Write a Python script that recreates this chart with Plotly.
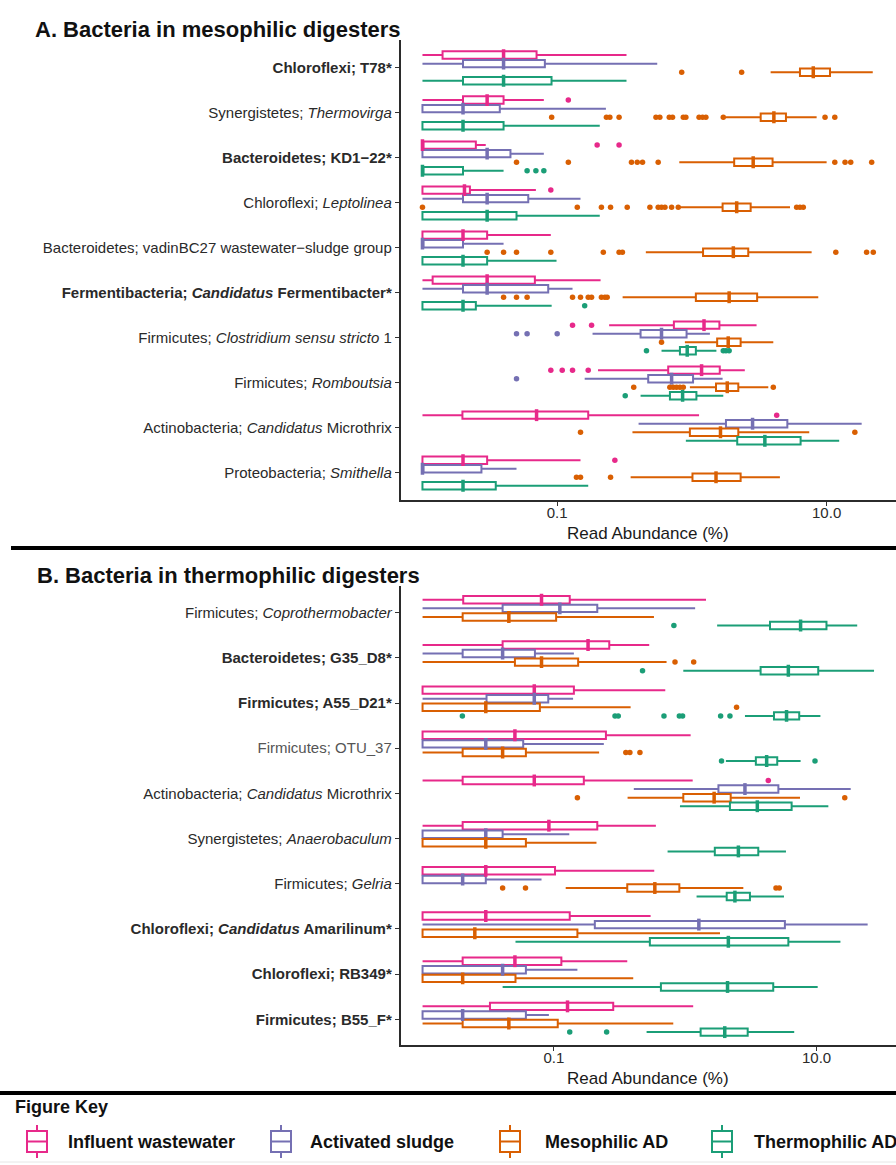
import plotly.graph_objects as go

W, H = 896, 1165
OFF = 0  # body margin removed via post_script
FONT = "Liberation Sans, Arial, Helvetica, sans-serif"

SERIES = ["Influent wastewater", "Activated sludge", "Mesophilic AD", "Thermophilic AD"]
COLORS = ["#E7298A", "#7570B3", "#D95F02", "#1B9E77"]

# ---------------- Panel A: mesophilic digesters ----------------
A_LABELS = [
    "<b>Chloroflexi; T78*</b>",
    "Synergistetes; <i>Thermovirga</i>",
    "<b>Bacteroidetes; KD1\u221222*</b>",
    "Chloroflexi; <i>Leptolinea</i>",
    "Bacteroidetes; vadinBC27 wastewater\u2212sludge group",
    "<b>Fermentibacteria; <i>Candidatus</i> Fermentibacter*</b>",
    "Firmicutes; <i>Clostridium sensu stricto</i> 1",
    "Firmicutes; <i>Romboutsia</i>",
    "Actinobacteria; <i>Candidatus</i> Microthrix",
    "Proteobacteria; <i>Smithella</i>",
]
# (lower whisker, q1, median, q3, upper whisker) in % read abundance
A_INFLUENT = [
    (0.01, 0.0141, 0.040, 0.0703, 0.327),
    (0.01, 0.020, 0.0302, 0.040, 0.0796),
    (0.01, 0.01, 0.01, 0.0249, 0.0295),
    (0.01, 0.01, 0.0205, 0.0225, 0.0695),
    (0.01, 0.01, 0.020, 0.0302, 0.0897),
    (0.01, 0.0119, 0.0302, 0.0683, 0.21),
    (0.243, 0.735, 1.23, 1.60, 3.02),
    (0.201, 0.667, 1.18, 1.61, 2.47),
    (0.01, 0.0198, 0.0703, 0.17, 1.13),
    (0.01, 0.01, 0.020, 0.0302, 0.149),
]
A_INFLUENT_OUT = [[], [0.121], [0.198, 0.288], [0.0897], [], [],
                  [0.13, 0.18], [0.0897, 0.109, 0.13, 0.17], [4.26], [0.268]]
A_SLUDGE = [
    (0.01, 0.020, 0.040, 0.081, 0.553),
    (0.01, 0.01, 0.020, 0.0375, 0.230),
    (0.01, 0.01, 0.0302, 0.045, 0.0796),
    (0.01, 0.020, 0.0302, 0.061, 0.149),
    (0.01, 0.01, 0.01, 0.020, 0.040),
    (0.01, 0.020, 0.0302, 0.0858, 0.13),
    (0.183, 0.416, 0.595, 0.913, 1.36),
    (0.16, 0.474, 0.707, 1.02, 1.69),
    (0.402, 1.79, 2.82, 5.11, 18.2),
    (0.01, 0.01, 0.01, 0.0274, 0.0499),
]
A_SLUDGE_OUT = [[], [], [], [], [], [], [0.0499, 0.0598, 0.1], [0.0499], [], []]
A_MESO = [
    (3.84, 6.34, 7.96, 10.6, 22.0),
    (1.79, 3.24, 4.06, 4.99, 8.43),
    (0.806, 2.06, 2.85, 3.97, 10.0),
    (0.815, 1.69, 2.15, 2.73, 5.35),
    (0.455, 1.21, 2.03, 2.62, 7.74),
    (0.306, 1.07, 1.89, 3.05, 8.67),
    (0.887, 1.54, 1.86, 2.30, 4.02),
    (0.966, 1.51, 1.83, 2.21, 3.69),
    (0.362, 0.966, 1.63, 2.21, 7.43),
    (0.351, 1.01, 1.51, 2.30, 4.5),
]
A_MESO_OUT = [
    [0.84, 2.34],
    [0.091, 0.232, 0.246, 0.288, 0.541, 0.578, 0.679, 0.718, 0.863, 0.902,
     1.13, 1.20, 1.27, 1.71, 9.73, 11.5],
    [0.0499, 0.121, 0.356, 0.393, 0.430, 0.562, 11.5, 13.7, 15.1, 21.6],
    [0.01, 0.141, 0.213, 0.249, 0.331, 0.488, 0.562, 0.595, 0.631, 0.707,
     0.792, 5.99, 6.34, 6.71],
    [0.0302, 0.040, 0.0499, 0.0897, 0.22, 0.288, 0.305, 11.7, 19.8, 22.2],
    [0.040, 0.0499, 0.0598, 0.13, 0.149, 0.17, 0.18, 0.213, 0.226, 0.235],
    [0.595],
    [0.37, 0.686, 0.727, 0.769, 0.815, 0.863, 4.02],
    [0.149, 16.2],
    [0.139, 0.149, 0.249],
]
A_THERMO = [
    (0.01, 0.020, 0.040, 0.0908, 0.327),
    (0.01, 0.01, 0.020, 0.040, 0.207),
    (0.01, 0.01, 0.01, 0.020, 0.040),
    (0.01, 0.01, 0.0302, 0.0499, 0.207),
    (0.01, 0.01, 0.020, 0.0302, 0.0989),
    (0.01, 0.01, 0.020, 0.0249, 0.091),
    (0.595, 0.815, 0.923, 1.07, 1.52),
    (0.416, 0.687, 0.853, 1.08, 1.71),
    (0.902, 2.17, 3.48, 6.41, 12.4),
    (0.01, 0.01, 0.020, 0.035, 0.17),
]
A_THERMO_OUT = [[], [], [0.0598, 0.0695, 0.0796], [], [], [0.16],
                [0.46, 1.71, 1.79, 1.89], [0.32], [], []]

# ---------------- Panel B: thermophilic digesters ----------------
B_LABELS = [
    "Firmicutes; <i>Coprothermobacter</i>",
    "<b>Bacteroidetes; G35_D8*</b>",
    "<b>Firmicutes; A55_D21*</b>",
    "<span style='color:#555555'>Firmicutes; OTU_37</span>",
    "Actinobacteria; <i>Candidatus</i> Microthrix",
    "Synergistetes; <i>Anaerobaculum</i>",
    "Firmicutes; <i>Gelria</i>",
    "<b>Chloroflexi; <i>Candidatus</i> Amarilinum*</b>",
    "<b>Chloroflexi; RB349*</b>",
    "<b>Firmicutes; B55_F*</b>",
]
B_INFLUENT = [
    (0.01, 0.0204, 0.0805, 0.132, 1.44),
    (0.01, 0.0407, 0.182, 0.264, 0.532),
    (0.01, 0.01, 0.0709, 0.142, 0.705),
    (0.01, 0.01, 0.0505, 0.249, 1.1),
    (0.01, 0.0202, 0.0709, 0.169, 1.14),
    (0.01, 0.0202, 0.0916, 0.214, 0.598),
    (0.01, 0.01, 0.0303, 0.102, 0.581),
    (0.01, 0.01, 0.0303, 0.132, 0.545),
    (0.01, 0.0202, 0.0505, 0.114, 0.362),
    (0.01, 0.0326, 0.127, 0.283, 1.15),
]
B_INFLUENT_OUT = [[], [], [], [], [4.29], [], [], [], [], []]
B_SLUDGE = [
    (0.01, 0.0407, 0.111, 0.214, 1.19),
    (0.01, 0.0202, 0.0407, 0.0717, 0.142),
    (0.01, 0.0307, 0.0709, 0.0906, 0.14),
    (0.01, 0.01, 0.0303, 0.0584, 0.24),
    (0.406, 1.79, 2.85, 5.12, 18.2),
    (0.01, 0.01, 0.0303, 0.0407, 0.131),
    (0.01, 0.01, 0.0202, 0.0303, 0.0805),
    (0.01, 0.205, 1.27, 5.74, 24.5),
    (0.01, 0.01, 0.0407, 0.0612, 0.151),
    (0.01, 0.01, 0.0202, 0.0612, 0.0916),
]
B_SLUDGE_OUT = [[], [], [], [], [], [], [], [], [], []]
B_MESO = [
    (0.01, 0.0202, 0.0454, 0.104, 0.578),
    (0.01, 0.0505, 0.0805, 0.153, 0.721),
    (0.01, 0.01, 0.0303, 0.0782, 0.384),
    (0.01, 0.0202, 0.0407, 0.0612, 0.221),
    (0.364, 0.967, 1.66, 2.22, 7.48),
    (0.01, 0.01, 0.0303, 0.0612, 0.211),
    (0.123, 0.362, 0.587, 0.902, 2.77),
    (0.01, 0.01, 0.025, 0.151, 1.84),
    (0.01, 0.01, 0.0202, 0.051, 0.402),
    (0.01, 0.0202, 0.0454, 0.107, 0.811),
]
B_MESO_OUT = [[], [0.836, 1.16], [2.46], [0.353, 0.379, 0.452], [0.151, 16.4],
              [], [0.0407, 0.0608, 4.91, 5.2], [], [], []]
B_THERMO = [
    (1.75, 4.42, 7.56, 11.9, 20.4),
    (0.967, 3.75, 6.1, 10.3, 27.4),
    (2.85, 4.74, 5.91, 7.38, 10.7),
    (2.04, 3.45, 4.17, 5.02, 7.56),
    (0.912, 2.19, 3.54, 6.46, 12.3),
    (0.734, 1.68, 2.54, 3.6, 5.85),
    (1.22, 2.07, 2.39, 3.11, 5.65),
    (0.051, 0.538, 2.13, 6.1, 15.2),
    (0.0407, 0.653, 2.1, 4.68, 10.2),
    (0.508, 1.31, 2.0, 2.99, 6.76),
]
B_THERMO_OUT = [[0.82], [0.473],
                [0.0201, 0.292, 0.309, 0.689, 0.902, 0.955, 1.86, 2.19],
                [1.89, 9.73], [], [], [], [], [], [0.132, 0.252]]

X_TICKS = [0.1, 10]
X_TICKTEXT = ["0.1", "10.0"]
X_TITLE = "Read Abundance (%)"

DODGE = 0.19
BOXW = 0.165

fig = go.Figure()


def add_panel(stats_sets, out_sets, xa, ya):
    for j, (stats, outs) in enumerate(zip(stats_sets, out_sets)):
        color = COLORS[j]
        pos = [i + (j - 1.5) * DODGE for i in range(len(stats))]
        fig.add_trace(go.Box(
            orientation="h", y=pos,
            lowerfence=[s[0] for s in stats], q1=[s[1] for s in stats],
            median=[s[2] for s in stats], q3=[s[3] for s in stats],
            upperfence=[s[4] for s in stats],
            width=BOXW, whiskerwidth=0, boxpoints=False,
            line=dict(color=color, width=2), fillcolor="white",
            name=SERIES[j], showlegend=False, hoverinfo="skip",
            xaxis=xa, yaxis=ya))
        ox, oy = [], []
        for i, o in enumerate(outs):
            ox += o
            oy += [pos[i]] * len(o)
        fig.add_trace(go.Scatter(
            x=ox, y=oy, mode="markers", showlegend=False, hoverinfo="skip",
            marker=dict(color=color, size=5.5, line=dict(width=0)),
            xaxis=xa, yaxis=ya))
        fig.add_trace(go.Scatter(
            x=[s[2] for s in stats], y=pos, mode="markers", showlegend=False,
            hoverinfo="skip",
            marker=dict(symbol="line-ns", size=8.5, color=color,
                        line=dict(color=color, width=3.5)),
            xaxis=xa, yaxis=ya))


add_panel([A_INFLUENT, A_SLUDGE, A_MESO, A_THERMO],
          [A_INFLUENT_OUT, A_SLUDGE_OUT, A_MESO_OUT, A_THERMO_OUT], "x", "y")
add_panel([B_INFLUENT, B_SLUDGE, B_MESO, B_THERMO],
          [B_INFLUENT_OUT, B_SLUDGE_OUT, B_MESO_OUT, B_THERMO_OUT], "x2", "y2")


def py(px):
    # screen pixel (top-left of window) -> paper y
    return 1 - (px - OFF) / H


def pxx(px):
    # screen pixel -> paper x
    return (px - OFF) / W


xdom = [pxx(400.5), pxx(896)]
axis_common = dict(showgrid=False, zeroline=False, showline=True,
                   linecolor="#2b2b2b", linewidth=1.5, ticks="outside",
                   ticklen=4, tickwidth=1.2, tickcolor="#333333",
                   tickfont=dict(family=FONT, size=15, color="#2a2a2a"))

fig.update_layout(
    width=W, height=H, autosize=False,
    margin=dict(l=0, r=0, t=0, b=0),
    paper_bgcolor="white", plot_bgcolor="white",
    font=dict(family=FONT, color="#222222"),
    xaxis=dict(type="log", range=[-2.163, 1.515], domain=xdom, anchor="y",
               tickvals=X_TICKS, ticktext=X_TICKTEXT, ticklabelstandoff=-6,
               **axis_common),
    yaxis=dict(range=[9.6, -0.62], domain=[py(500), py(40)], anchor="x",
               tickvals=list(range(len(A_LABELS))), ticktext=A_LABELS,
               **axis_common),
    xaxis2=dict(type="log", range=[-2.168, 1.605], domain=xdom, anchor="y2",
                tickvals=X_TICKS, ticktext=X_TICKTEXT, ticklabelstandoff=-6,
                **axis_common),
    yaxis2=dict(range=[9.57, -0.59], domain=[py(1045), py(586)], anchor="x2",
                tickvals=list(range(len(B_LABELS))), ticktext=B_LABELS,
                **axis_common),
)

ann = []
ann.append(dict(text="<b>A. Bacteria in mesophilic digesters</b>", x=pxx(33), y=py(30),
                xref="paper", yref="paper", xanchor="left", yanchor="middle",
                showarrow=False, font=dict(family=FONT, size=22, color="#111111")))
ann.append(dict(text="<b>B. Bacteria in thermophilic digesters</b>", x=pxx(35), y=py(575),
                xref="paper", yref="paper", xanchor="left", yanchor="middle",
                showarrow=False, font=dict(family=FONT, size=22, color="#111111")))
for yc in (533, 1078):
    ann.append(dict(text=X_TITLE, x=(xdom[0] + xdom[1]) / 2, y=py(yc), xref="paper",
                    yref="paper", xanchor="center", yanchor="middle", showarrow=False,
                    font=dict(family=FONT, size=17, color="#1a1a1a")))

shapes = []
shapes.append(dict(type="line", xref="paper", yref="paper", x0=pxx(11), x1=1,
                   y0=py(548), y1=py(548), line=dict(color="black", width=4)))
shapes.append(dict(type="line", xref="paper", yref="paper", x0=0, x1=1,
                   y0=py(1093), y1=py(1093), line=dict(color="black", width=4)))
shapes.append(dict(type="line", xref="paper", yref="paper", x0=0, x1=1,
                   y0=py(1162), y1=py(1162), line=dict(color="#e6e6e6", width=1)))

# Figure key
ann.append(dict(text="<b>Figure Key</b>", x=pxx(13), y=py(1107), xref="paper", yref="paper",
                xanchor="left", yanchor="middle", showarrow=False,
                font=dict(family=FONT, size=18, color="#111111")))
KEY_ICON_X = [27, 271, 500, 712]
KEY_TEXT_X = [66, 308, 543, 752]
for j in range(4):
    c = COLORS[j]
    x0 = KEY_ICON_X[j]
    x1 = x0 + 20
    xm = (x0 + x1) / 2
    top, bt = 1131, 1152
    shapes.append(dict(type="rect", xref="paper", yref="paper", x0=pxx(x0), x1=pxx(x1),
                       y0=py(bt), y1=py(top), line=dict(color=c, width=2),
                       fillcolor="white"))
    shapes.append(dict(type="line", xref="paper", yref="paper", x0=pxx(x0), x1=pxx(x1),
                       y0=py((top + bt) / 2), y1=py((top + bt) / 2),
                       line=dict(color=c, width=2)))
    shapes.append(dict(type="line", xref="paper", yref="paper", x0=pxx(xm), x1=pxx(xm),
                       y0=py(top), y1=py(top - 6), line=dict(color=c, width=2)))
    shapes.append(dict(type="line", xref="paper", yref="paper", x0=pxx(xm), x1=pxx(xm),
                       y0=py(bt), y1=py(bt + 6), line=dict(color=c, width=2)))
    ann.append(dict(text="<b>" + SERIES[j] + "</b>", x=pxx(KEY_TEXT_X[j]), y=py(1142),
                    xref="paper", yref="paper", xanchor="left", yanchor="middle",
                    showarrow=False, font=dict(family=FONT, size=18, color="#111111")))

fig.update_layout(annotations=ann, shapes=shapes)
fig.write_html(
    "out.html",
    config={"displayModeBar": False},
    post_script="document.body.style.margin='0';document.body.style.overflow='hidden';",
)
